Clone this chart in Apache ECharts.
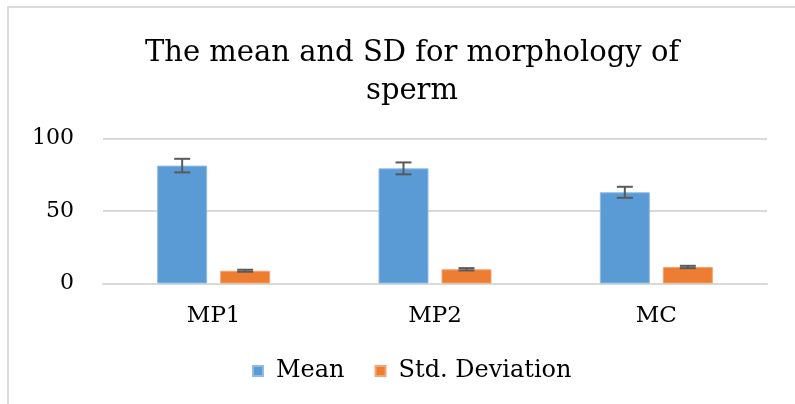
<!DOCTYPE html>
<html lang="en">
<head>
<meta charset="UTF-8">
<title>Mean and SD - morphology of sperm</title>
<script src="https://cdn.jsdelivr.net/npm/echarts@6/dist/echarts.min.js"></script>
<style>
  html, body { margin: 0; padding: 0; background: #fff; }
  #chart { width: 795px; height: 404px; }
</style>
</head>
<body>
<div id="chart"></div>
<script>
  // data
  var categories = ['MP1', 'MP2', 'MC'];
  var meanValues = [81.3, 79.4, 62.9];
  var meanErrors = [4.7, 4.1, 3.8];
  var sdValues = [8.8, 9.8, 11.4];
  var sdErrors = [0.7, 0.8, 0.8];
  var yTicks = [0, 50, 100];

  var BAR_W = 50;
  var BAR_GAP = 13;
  var serif = '"DejaVu Serif", "Liberation Serif", serif';

  function errData(vals, errs) {
    return vals.map(function (v, i) { return [i, v, errs[i]]; });
  }

  // error bar drawn at an offset from the category centre
  function errRenderer(offset) {
    return function (params, api) {
      var i = api.value(0), v = api.value(1), e = api.value(2);
      var top = api.coord([i, v + e]);
      var bot = api.coord([i, v - e]);
      var x = top[0] + offset;
      var cap = 8;
      var st = { stroke: '#595959', lineWidth: 2 };
      return {
        type: 'group',
        children: [
          { type: 'line', shape: { x1: x, y1: top[1], x2: x, y2: bot[1] }, style: st },
          { type: 'line', shape: { x1: x - cap, y1: top[1], x2: x + cap, y2: top[1] }, style: st },
          { type: 'line', shape: { x1: x - cap, y1: bot[1], x2: x + cap, y2: bot[1] }, style: st }
        ]
      };
    };
  }

  var chart = echarts.init(document.getElementById('chart'));
  var off = (BAR_W + BAR_GAP) / 2;

  chart.setOption({
    animation: false,
    title: {
      text: 'The mean and SD for morphology of\nsperm',
      left: 407,
      top: 29,
      textAlign: 'center',
      textStyle: {
        fontFamily: serif,
        fontSize: 29,
        fontWeight: 'normal',
        color: '#000',
        lineHeight: 38
      }
    },
    graphic: [{
      type: 'rect',
      shape: { x: 8, y: 7, width: 820, height: 420 },
      style: { fill: 'none', stroke: '#d9d9d9', lineWidth: 2 },
      silent: true
    }],
    legend: {
      data: ['Mean', 'Std. Deviation'],
      left: 247,
      top: 354,
      icon: 'rect',
      itemWidth: 10,
      itemHeight: 10,
      itemGap: 30,
      textStyle: { fontFamily: serif, fontSize: 24, color: '#000', padding: [0, 0, 0, 8] }
    },
    grid: { left: 103, right: 28, top: 138.5, bottom: 120.5 },
    xAxis: {
      type: 'category',
      data: categories,
      axisLine: { lineStyle: { color: '#d9d9d9', width: 2 } },
      axisTick: { show: false },
      axisLabel: { fontFamily: serif, fontSize: 23, color: '#000', margin: 21 }
    },
    yAxis: {
      type: 'value',
      min: yTicks[0],
      max: yTicks[yTicks.length - 1],
      interval: yTicks[1] - yTicks[0],
      axisLine: { show: false },
      axisTick: { show: false },
      splitLine: { lineStyle: { color: '#d9d9d9', width: 2 } },
      axisLabel: { fontFamily: serif, fontSize: 22, color: '#000', margin: 29 }
    },
    series: [
      {
        name: 'Mean',
        type: 'bar',
        data: meanValues,
        barWidth: BAR_W,
        barGap: (BAR_GAP / BAR_W * 100) + '%',
        itemStyle: { color: '#5B9BD5', borderColor: '#8fbbe6', borderWidth: 1 }
      },
      {
        name: 'Std. Deviation',
        type: 'bar',
        data: sdValues,
        barWidth: BAR_W,
        itemStyle: { color: '#ED7D31', borderColor: '#f3a56f', borderWidth: 1 }
      },
      {
        type: 'custom',
        renderItem: errRenderer(-off),
        data: errData(meanValues, meanErrors),
        z: 10
      },
      {
        type: 'custom',
        renderItem: errRenderer(off),
        data: errData(sdValues, sdErrors),
        z: 10
      }
    ]
  });
</script>
</body>
</html>
